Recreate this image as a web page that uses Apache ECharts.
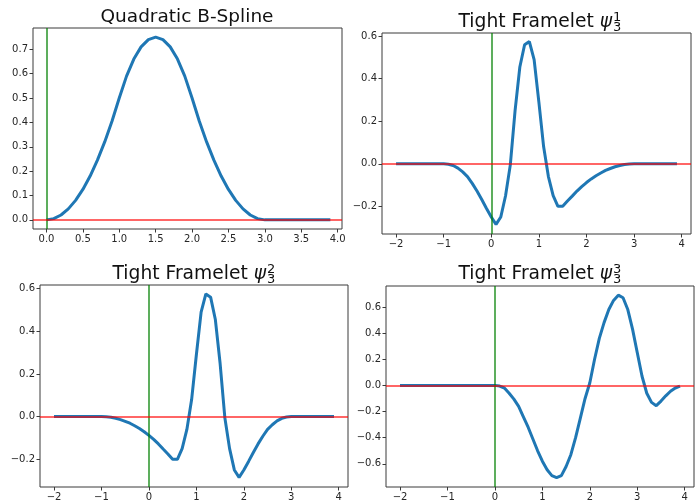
<!DOCTYPE html>
<html>
<head>
<meta charset="utf-8">
<script src="https://cdn.jsdelivr.net/npm/echarts@6/dist/echarts.min.js"></script>
<style>
  html, body { margin: 0; padding: 0; background: #fff; }
  #main { width: 699px; height: 502px; }
</style>
</head>
<body>
<div id="main"></div>
<script>
// sample points
const splineX = [0, 0.1, 0.2, 0.3, 0.4, 0.5, 0.6, 0.7, 0.8, 0.9, 1.0, 1.1, 1.2, 1.3, 1.4, 1.5, 1.6, 1.7, 1.8, 1.9,
  2.0, 2.1, 2.2, 2.3, 2.4, 2.5, 2.6, 2.7, 2.8, 2.9, 3.0, 3.1, 3.2, 3.3, 3.4, 3.5, 3.6, 3.7, 3.8, 3.9]
const frameX = [-2.0, -1.9, -1.8, -1.7, -1.6, -1.5, -1.4, -1.3, -1.2, -1.1, -1.0, -0.9, -0.8, -0.7, -0.6, -0.5, -0.4, -0.3, -0.2, -0.1,
  0, 0.1, 0.2, 0.3, 0.4, 0.5, 0.6, 0.7, 0.8, 0.9, 1.0, 1.1, 1.2, 1.3, 1.4, 1.5, 1.6, 1.7, 1.8, 1.9,
  2.0, 2.1, 2.2, 2.3, 2.4, 2.5, 2.6, 2.7, 2.8, 2.9, 3.0, 3.1, 3.2, 3.3, 3.4, 3.5, 3.6, 3.7, 3.8, 3.9]

// values
const splineY = [0, 0.005, 0.02, 0.045, 0.08, 0.125, 0.18, 0.245, 0.32, 0.405, 0.5, 0.59, 0.66, 0.71, 0.74, 0.75, 0.74, 0.71, 0.66, 0.59,
  0.5, 0.405, 0.32, 0.245, 0.18, 0.125, 0.08, 0.045, 0.02, 0.005, 0, 0, 0, 0, 0, 0, 0, 0, 0, 0]
const psi1 = [0, 0, 0, 0, 0, 0, 0, 0, 0, 0, 0, -0.002, -0.008, -0.02, -0.038, -0.06, -0.092, -0.128, -0.168, -0.21,
  -0.25, -0.285, -0.25, -0.15, -0.005, 0.25, 0.455, 0.56, 0.575, 0.49, 0.29, 0.08, -0.06, -0.15, -0.2, -0.2, -0.175, -0.152, -0.128, -0.107,
  -0.088, -0.071, -0.056, -0.043, -0.031, -0.022, -0.014, -0.008, -0.003, -0.001, 0, 0, 0, 0, 0, 0, 0, 0, 0, 0]
const psi2 = [0, 0, 0, 0, 0, 0, 0, 0, 0, 0, 0, -0.001, -0.003, -0.008, -0.014, -0.022, -0.031, -0.043, -0.056, -0.071,
  -0.088, -0.107, -0.128, -0.152, -0.175, -0.2, -0.2, -0.15, -0.06, 0.08, 0.29, 0.49, 0.575, 0.56, 0.455, 0.25, -0.005, -0.15, -0.25, -0.285,
  -0.25, -0.21, -0.168, -0.128, -0.092, -0.06, -0.038, -0.02, -0.008, -0.002, 0, 0, 0, 0, 0, 0, 0, 0, 0, 0]
const psi3 = [0, 0, 0, 0, 0, 0, 0, 0, 0, 0, 0, 0, 0, 0, 0, 0, 0, 0, 0, 0,
  0, -0.005, -0.02, -0.06, -0.105, -0.16, -0.24, -0.32, -0.41, -0.5, -0.58, -0.645, -0.69, -0.705, -0.69, -0.62, -0.53, -0.4, -0.25, -0.1,
  0.02, 0.2, 0.36, 0.48, 0.58, 0.65, 0.69, 0.67, 0.58, 0.43, 0.25, 0.07, -0.06, -0.13, -0.155, -0.12, -0.08, -0.045, -0.02, -0.005]

// tick labels
const splineXTicks = [0, 0.5, 1.0, 1.5, 2.0, 2.5, 3.0, 3.5, 4.0]
const splineYTicks = [0, 0.1, 0.2, 0.3, 0.4, 0.5, 0.6, 0.7]
const frameXTicks = [-2, -1, 0, 1, 2, 3, 4]
const psiYTicks = [-0.2, 0, 0.2, 0.4, 0.6]
const psi3YTicks = [-0.6, -0.4, -0.2, 0, 0.2, 0.4, 0.6]

const fmt = (d) => (v) => (v < 0 ? '\u2212' : '') + Math.abs(v).toFixed(d)

const panels = [
  { grid: { left: 33, top: 28, width: 309, height: 201 }, x: splineX, y: splineY,
    xr: [-0.185, 4.06], yr: [-0.0375, 0.7875], xt: splineXTicks, yt: splineYTicks, xd: 1 },
  { grid: { left: 382, top: 33, width: 309, height: 201 }, x: frameX, y: psi1,
    xr: [-2.295, 4.195], yr: [-0.33, 0.615], xt: frameXTicks, yt: psiYTicks, xd: 0 },
  { grid: { left: 40, top: 285, width: 308, height: 202 }, x: frameX, y: psi2,
    xr: [-2.295, 4.195], yr: [-0.33, 0.617], xt: frameXTicks, yt: psiYTicks, xd: 0 },
  { grid: { left: 386, top: 286, width: 308, height: 201 }, x: frameX, y: psi3,
    xr: [-2.295, 4.195], yr: [-0.777, 0.76], xt: frameXTicks, yt: psi3YTicks, xd: 0 }
]

const tickFont = { fontFamily: 'DejaVu Sans', fontSize: 10, color: '#262626' }
const grids = [], xAxes = [], yAxes = [], series = []
panels.forEach((p, i) => {
  grids.push(Object.assign({ show: true, borderColor: '#3a3a3a', borderWidth: 1, backgroundColor: '#fff' }, p.grid))
  xAxes.push({
    type: 'value', gridIndex: i, min: p.xr[0], max: p.xr[1], position: 'bottom',
    axisLine: { show: false, onZero: false }, splitLine: { show: false },
    axisTick: { show: true, inside: false, length: 3.5, customValues: p.xt, lineStyle: { color: '#3a3a3a' } },
    axisLabel: Object.assign({ margin: 5, customValues: p.xt, formatter: fmt(p.xd) }, tickFont)
  })
  yAxes.push({
    type: 'value', gridIndex: i, min: p.yr[0], max: p.yr[1], position: 'left',
    axisLine: { show: false, onZero: false }, splitLine: { show: false },
    axisTick: { show: true, inside: false, length: 3.5, customValues: p.yt, lineStyle: { color: '#3a3a3a' } },
    axisLabel: Object.assign({ margin: 5, customValues: p.yt, formatter: fmt(1) }, tickFont)
  })
  series.push({
    type: 'line', xAxisIndex: i, yAxisIndex: i, symbol: 'none', silent: true,
    data: p.x.map((v, k) => [v, p.y[k]]),
    lineStyle: { color: '#1f77b4', width: 3 },
    markLine: {
      silent: true, symbol: 'none', label: { show: false },
      data: [
        { xAxis: 0, lineStyle: { color: '#008000', width: 1.5, type: 'solid', opacity: 0.85 } },
        { yAxis: 0, lineStyle: { color: '#ff0000', width: 2, type: 'solid', opacity: 0.6 } }
      ]
    }
  })
})

// titles
const titleFont = 'DejaVu Sans'
const graphic = [
  { type: 'text', x: 187, y: 17, style: { text: 'Quadratic B-Spline', font: '18.5px ' + titleFont, fill: '#111', align: 'center', verticalAlign: 'middle' } }
]
const framelets = [
  { end: 612, base: 22, sup: '1' },
  { end: 266, base: 274, sup: '2' },
  { end: 612, base: 274, sup: '3' }
]
framelets.forEach((t) => {
  graphic.push({ type: 'text', x: t.end, y: t.base, style: {
    text: '{n|Tight Framelet }{p|\u03c8}', align: 'right', verticalAlign: 'middle', fill: '#111',
    rich: { n: { fontFamily: titleFont, fontSize: 18.7, fill: '#111' }, p: { fontFamily: titleFont, fontStyle: 'italic', fontSize: 18.7, fill: '#111' } }
  } })
  graphic.push({ type: 'text', x: t.end + 1, y: t.base + 6, style: { text: '3', font: '13px ' + titleFont, fill: '#111', align: 'left', verticalAlign: 'middle' } })
  graphic.push({ type: 'text', x: t.end + 1, y: t.base - 4, style: { text: t.sup, font: '13px ' + titleFont, fill: '#111', align: 'left', verticalAlign: 'middle' } })
})

const chart = echarts.init(document.getElementById('main'))
chart.setOption({
  animation: false,
  backgroundColor: '#fff',
  grid: grids,
  xAxis: xAxes,
  yAxis: yAxes,
  series: series,
  graphic: graphic
})
</script>
</body>
</html>
